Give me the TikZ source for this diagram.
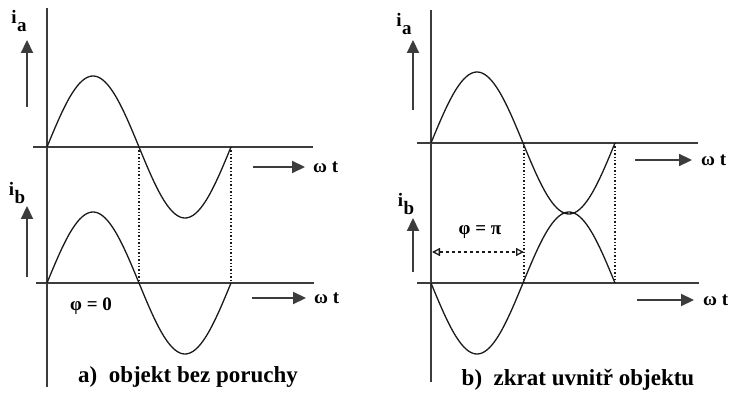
\documentclass[tikz,border=0pt]{standalone}
\usepackage{fontspec}
\setmainfont{Liberation Serif}
\usetikzlibrary{arrows.meta,positioning}
\definecolor{ink}{HTML}{1A1A1A}
\definecolor{axisgray}{HTML}{3C3C3C}
\tikzset{
  axisline/.style={draw=axisgray,line width=2.2pt},
  wave/.style={draw=ink,line width=1.3pt,smooth,samples=80},
  guide/.style={draw=ink,line width=1.4pt,dotted},
  dirarr/.style={-{Triangle[length=13pt,width=12pt]},line width=2.2pt,draw=axisgray},
  phiarr/.style={{Triangle[open,length=8pt,width=8pt]}-{Triangle[open,length=8pt,width=8pt]},
                 line width=1.3pt,dashed,draw=ink},
  curlbl/.style={font=\bfseries\fontsize{19}{19}\selectfont,inner sep=1pt},
  wtlbl/.style={font=\bfseries\fontsize{19}{19}\selectfont,inner sep=1pt,anchor=west},
  caption/.style={font=\bfseries\fontsize{23}{23}\selectfont,inner sep=1pt}
}
\newcommand{\cursub}[2]{#1\kern0.5pt\raisebox{-0.45em}{#2}}

\begin{document}
\begin{tikzpicture}[x=1pt,y=-1pt]
  \useasboundingbox (0,0) rectangle (737,398);

  % a) left panel: objekt bez poruchy
  \draw[axisline] (47,8) -- (47,387);
  \draw[axisline] (33,147) -- (313,147);
  \draw[axisline] (36,283) -- (314,283);
  \draw[wave] plot[domain=47:231] (\x,{147-71*sin((\x-47)/92*180)});
  \draw[wave] plot[domain=47:231] (\x,{283-71*sin((\x-47)/92*180)});
  \coordinate (az1) at (139,147);  \coordinate (bz1) at (139,283);
  \coordinate (az2) at (231,147);  \coordinate (bz2) at (231,283);
  \draw[guide] (az1) -- (bz1);
  \draw[guide] (az2) -- (bz2);

  \node[curlbl] (iaL) at (19,21) {\cursub{i}{a}};
  \coordinate (iaLtail) at (27,107);
  \draw[dirarr] (iaLtail) -- (27,40);
  \node[curlbl] (ibL) at (17,193) {\cursub{i}{b}};
  \coordinate (ibLtail) at (27,277);
  \draw[dirarr] (ibLtail) -- (27,206);

  \node[wtlbl] (wtLa) at (312,167) {ω t};
  \coordinate (wtLatail) at (253,167);
  \draw[dirarr,shorten >=7pt] (wtLatail) -- (wtLa.west);
  \node[wtlbl] (wtLb) at (313,298) {ω t};
  \coordinate (wtLbtail) at (252,298);
  \draw[dirarr,shorten >=7pt] (wtLbtail) -- (wtLb.west);

  \node[curlbl] (phiL) at (91,306) {φ = 0};
  \node[caption] (capL) at (188,377) {a)\ \ objekt bez poruchy};

  % b) right panel: zkrat uvnitr objektu
  \draw[axisline] (431,10) -- (431,382);
  \draw[axisline] (417,143) -- (698,143);
  \draw[axisline] (417,283) -- (699,283);
  \draw[wave] plot[domain=431:615] (\x,{143-71*sin((\x-431)/92*180)});
  \draw[wave] plot[domain=431:615] (\x,{283+71*sin((\x-431)/92*180)});
  \coordinate (cz1) at (524,143);  \coordinate (dz1) at (524,283);
  \coordinate (cz2) at (615,143);  \coordinate (dz2) at (615,283);
  \draw[guide] (cz1) -- (dz1);
  \draw[guide] (cz2) -- (dz2);

  \node[curlbl] (iaR) at (404,24) {\cursub{i}{a}};
  \coordinate (iaRtail) at (413,110);
  \draw[dirarr] (iaRtail) -- (413,40);
  \node[curlbl] (ibR) at (406,204) {\cursub{i}{b}};
  \coordinate (ibRtail) at (413,272);
  \draw[dirarr] (ibRtail) -- (413,218);

  \node[curlbl] (phiR) at (480,232) {φ = π};
  \coordinate (phiRa) at (432,252);
  \coordinate (phiRb) at (524,252);
  \draw[phiarr] (phiRa) -- (phiRb);

  \node[wtlbl] (wtRa) at (700,160) {ω t};
  \coordinate (wtRatail) at (635,160);
  \draw[dirarr,shorten >=8pt] (wtRatail) -- (wtRa.west);
  \node[wtlbl] (wtRb) at (702,300) {ω t};
  \coordinate (wtRbtail) at (637,300);
  \draw[dirarr,shorten >=8pt] (wtRbtail) -- (wtRb.west);

  \node[caption] (capR) at (578,380) {b)\ \ zkrat uvnitř objektu};
\end{tikzpicture}
\end{document}
